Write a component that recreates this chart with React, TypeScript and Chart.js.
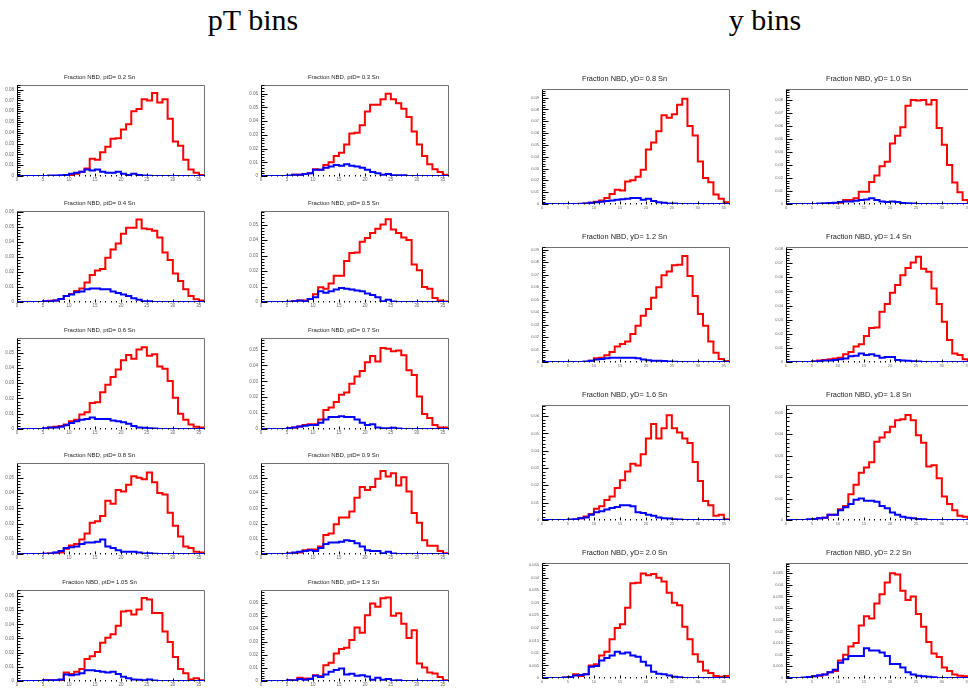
import React, { useEffect, useRef } from 'react';
import { Chart, registerables } from 'chart.js';

Chart.register(...registerables);

// ---------------- axis / bin definitions ----------------
const X_MIN = 0;
const X_MAX = 36;
const X_TICK_STEP = 5;

const ptBinLabels = ['0.2', '0.3', '0.4', '0.5', '0.6', '0.7', '0.8', '0.9', '1.05', '1.3'];
const yBinLabels = ['0.8', '1.0', '1.2', '1.4', '1.6', '1.8', '2.0', '2.2'];

// ---------------- pT bins data (36 bins each) ----------------
const redPt02 = [0, 0, 0, 0, 0, 0, 0, 0, 0, 0.0003, 0.001, 0.002, 0.004, 0.007, 0.016, 0.015, 0.022, 0.027, 0.0345, 0.035, 0.043, 0.048, 0.06, 0.062, 0.071, 0.07, 0.077, 0.068, 0.071, 0.053, 0.032, 0.028, 0.015, 0.006, 0.003, 0.001];
const bluePt02 = [0, 0, 0, 0, 0, 0, 0.0005, 0.0005, 0.0008, 0.001, 0.002, 0.003, 0.004, 0.006, 0.005, 0.006, 0.004, 0.003, 0.003, 0.004, 0.002, 0.001, 0.002, 0.001, 0.0005, 0.0003, 0, 0, 0, 0, 0, 0, 0, 0, 0, 0];

const redPt03 = [0, 0, 0, 0, 0, 0, 0.001, 0.001, 0.0015, 0.002, 0.005, 0.0045, 0.008, 0.01, 0.0145, 0.017, 0.023, 0.031, 0.0315, 0.037, 0.047, 0.052, 0.052, 0.056, 0.06, 0.056, 0.053, 0.049, 0.043, 0.0325, 0.023, 0.0145, 0.0085, 0.005, 0.003, 0.001];
const bluePt03 = [0, 0, 0, 0, 0, 0.0003, 0.001, 0.001, 0.0015, 0.002, 0.0045, 0.0045, 0.006, 0.007, 0.008, 0.0075, 0.0085, 0.0075, 0.007, 0.006, 0.0045, 0.003, 0.002, 0.001, 0.0015, 0.0005, 0.0005, 0.0005, 0, 0, 0, 0, 0, 0, 0, 0];

const redPt04 = [0, 0, 0, 0, 0, 0.0005, 0.0008, 0.001, 0.002, 0.004, 0.0053, 0.0073, 0.009, 0.013, 0.018, 0.021, 0.022, 0.0295, 0.035, 0.039, 0.0455, 0.0495, 0.0495, 0.055, 0.049, 0.0485, 0.0475, 0.043, 0.033, 0.028, 0.019, 0.014, 0.0085, 0.004, 0.0018, 0.001];
const bluePt04 = [0, 0, 0, 0, 0, 0.0005, 0.0005, 0.001, 0.002, 0.004, 0.005, 0.0065, 0.007, 0.0085, 0.009, 0.009, 0.0085, 0.0085, 0.007, 0.006, 0.005, 0.004, 0.0025, 0.0015, 0.0005, 0.0005, 0, 0, 0, 0, 0, 0, 0, 0, 0, 0];

const redPt05 = [0, 0, 0, 0, 0, 0.0002, 0.0005, 0.001, 0.001, 0.002, 0.005, 0.0095, 0.0085, 0.012, 0.017, 0.017, 0.0265, 0.0317, 0.032, 0.039, 0.0413, 0.0446, 0.0474, 0.05, 0.0535, 0.0468, 0.0446, 0.0416, 0.04, 0.0243, 0.0205, 0.0097, 0.0086, 0.0026, 0.001, 0.0003];
const bluePt05 = [0, 0, 0, 0, 0, 0.0002, 0.0005, 0.001, 0.0005, 0.002, 0.003, 0.007, 0.006, 0.007, 0.008, 0.009, 0.0085, 0.008, 0.0075, 0.007, 0.0055, 0.0045, 0.003, 0.0005, 0.0015, 0.0003, 0, 0, 0, 0, 0, 0, 0, 0, 0, 0];

const redPt06 = [0, 0, 0, 0, 0, 0.0003, 0.001, 0.0015, 0.002, 0.003, 0.005, 0.006, 0.0095, 0.011, 0.017, 0.0175, 0.024, 0.029, 0.034, 0.039, 0.045, 0.0485, 0.046, 0.052, 0.0535, 0.048, 0.049, 0.041, 0.0395, 0.0315, 0.0205, 0.01, 0.006, 0.003, 0.0015, 0.001];
const bluePt06 = [0, 0, 0, 0, 0, 0.0005, 0.001, 0.001, 0.0015, 0.0025, 0.004, 0.005, 0.006, 0.0065, 0.0075, 0.0065, 0.0065, 0.0065, 0.0055, 0.005, 0.0045, 0.0035, 0.002, 0.001, 0.0008, 0.0005, 0.0003, 0, 0, 0, 0, 0, 0, 0, 0, 0];

const redPt07 = [0, 0, 0, 0, 0, 0.0005, 0.001, 0.0015, 0.0025, 0.003, 0.003, 0.006, 0.012, 0.0135, 0.017, 0.0215, 0.023, 0.0285, 0.033, 0.0365, 0.042, 0.046, 0.0425, 0.051, 0.0505, 0.049, 0.0495, 0.0465, 0.037, 0.034, 0.0205, 0.0095, 0.007, 0.0025, 0.001, 0.001];
const bluePt07 = [0, 0, 0, 0, 0, 0.0005, 0.001, 0.0015, 0.002, 0.0025, 0.0025, 0.004, 0.006, 0.0075, 0.0075, 0.008, 0.0075, 0.0075, 0.006, 0.004, 0.0025, 0.003, 0.001, 0.0005, 0.0005, 0.0008, 0.0003, 0, 0, 0, 0, 0, 0, 0, 0, 0];

const redPt08 = [0, 0, 0, 0, 0, 0.0002, 0.0003, 0.0008, 0.001, 0.0035, 0.0055, 0.0065, 0.0095, 0.0135, 0.0205, 0.0215, 0.025, 0.035, 0.033, 0.042, 0.041, 0.0455, 0.051, 0.05, 0.049, 0.0535, 0.047, 0.04, 0.039, 0.027, 0.0185, 0.0115, 0.005, 0.004, 0.0015, 0.001];
const bluePt08 = [0, 0, 0, 0, 0, 0.0002, 0.0003, 0.001, 0.002, 0.004, 0.0045, 0.005, 0.0065, 0.0075, 0.0075, 0.008, 0.0095, 0.005, 0.004, 0.0025, 0.0015, 0.0015, 0.0015, 0.001, 0.0003, 0.0005, 0.0002, 0, 0, 0, 0, 0, 0, 0, 0, 0];

const redPt09 = [0, 0, 0, 0, 0, 0.0003, 0.0003, 0.001, 0.0025, 0.003, 0.003, 0.005, 0.0125, 0.0135, 0.0195, 0.024, 0.024, 0.028, 0.037, 0.044, 0.042, 0.044, 0.0495, 0.0545, 0.051, 0.053, 0.045, 0.0505, 0.041, 0.027, 0.0205, 0.009, 0.0055, 0.0055, 0.002, 0.0005];
const bluePt09 = [0, 0, 0, 0, 0, 0.0003, 0.001, 0.0015, 0.002, 0.0025, 0.002, 0.004, 0.0065, 0.0075, 0.0075, 0.008, 0.009, 0.0085, 0.007, 0.005, 0.0025, 0.002, 0.002, 0.0005, 0.0015, 0.0003, 0, 0, 0, 0, 0, 0, 0, 0, 0, 0];

const redPt105 = [0, 0, 0, 0, 0, 0.0005, 0.0005, 0.0005, 0.0005, 0.006, 0.005, 0.0065, 0.0085, 0.0155, 0.0175, 0.0205, 0.027, 0.0305, 0.033, 0.039, 0.049, 0.0495, 0.047, 0.0505, 0.0585, 0.0575, 0.048, 0.048, 0.035, 0.0275, 0.017, 0.0085, 0.0055, 0.001, 0.002, 0.0005];
const bluePt105 = [0, 0, 0, 0, 0, 0.0005, 0.0005, 0.0005, 0.001, 0.0045, 0.004, 0.0045, 0.0055, 0.0075, 0.0075, 0.007, 0.0065, 0.006, 0.0065, 0.005, 0.003, 0.002, 0.001, 0.0008, 0.0005, 0.001, 0.0003, 0, 0, 0, 0, 0, 0, 0, 0, 0];

const redPt13 = [0, 0, 0, 0, 0, 0.0005, 0.0005, 0.0025, 0.002, 0.002, 0.0045, 0.0038, 0.012, 0.014, 0.021, 0.0245, 0.0255, 0.0315, 0.041, 0.037, 0.0505, 0.0595, 0.057, 0.0635, 0.064, 0.05, 0.052, 0.044, 0.033, 0.039, 0.0135, 0.0103, 0.0065, 0.0057, 0.003, 0.0005];
const bluePt13 = [0, 0, 0, 0, 0, 0.0005, 0.0003, 0.0015, 0.001, 0.0015, 0.004, 0.003, 0.005, 0.007, 0.0085, 0.0095, 0.005, 0.0055, 0.004, 0.0045, 0.0035, 0.001, 0.0025, 0.001, 0.0015, 0.0003, 0.0005, 0, 0, 0, 0, 0, 0, 0, 0, 0];

// ---------------- y bins data (36 bins each) ----------------
const redY08 = [0, 0, 0, 0, 0, 0, 0, 0, 0.0005, 0.001, 0.002, 0.003, 0.005, 0.0085, 0.012, 0.0115, 0.019, 0.02, 0.023, 0.029, 0.046, 0.052, 0.0615, 0.075, 0.073, 0.076, 0.084, 0.089, 0.066, 0.058, 0.036, 0.022, 0.0185, 0.008, 0.0045, 0.0015];
const blueY08 = [0, 0, 0, 0, 0, 0, 0, 0.0003, 0.0005, 0.001, 0.0015, 0.002, 0.0025, 0.003, 0.0035, 0.004, 0.0045, 0.005, 0.005, 0.0035, 0.0045, 0.0025, 0.0015, 0.001, 0.0005, 0.0005, 0, 0, 0, 0, 0, 0, 0, 0, 0, 0];

const redY10 = [0, 0, 0, 0, 0, 0, 0, 0, 0, 0.0005, 0.001, 0.003, 0.003, 0.0045, 0.0095, 0.0095, 0.017, 0.022, 0.029, 0.0325, 0.0465, 0.0525, 0.059, 0.0755, 0.08, 0.0795, 0.08, 0.0765, 0.08, 0.0585, 0.0455, 0.03, 0.0165, 0.009, 0.003, 0.001];
const blueY10 = [0, 0, 0, 0, 0, 0, 0.0003, 0.0005, 0.0008, 0.001, 0.0015, 0.002, 0.002, 0.0025, 0.003, 0.0035, 0.0045, 0.003, 0.002, 0.0015, 0.002, 0.0015, 0.0008, 0.0005, 0.0003, 0, 0, 0, 0, 0, 0, 0, 0, 0, 0, 0];

const redY12 = [0, 0, 0, 0, 0, 0, 0, 0, 0, 0.001, 0.003, 0.0035, 0.0055, 0.008, 0.0125, 0.0145, 0.0165, 0.0225, 0.029, 0.037, 0.0425, 0.0515, 0.06, 0.0695, 0.0725, 0.0775, 0.078, 0.085, 0.069, 0.053, 0.0385, 0.029, 0.0165, 0.0075, 0.0025, 0.0008];
const blueY12 = [0, 0, 0, 0, 0, 0, 0, 0, 0.0005, 0.001, 0.002, 0.0025, 0.003, 0.0035, 0.0035, 0.0035, 0.0035, 0.0035, 0.003, 0.002, 0.0015, 0.001, 0.001, 0.0008, 0.0005, 0.0003, 0, 0, 0, 0, 0, 0, 0, 0, 0, 0];

const redY14 = [0, 0, 0, 0, 0, 0.0003, 0.001, 0.0015, 0.002, 0.0025, 0.003, 0.0055, 0.007, 0.011, 0.0125, 0.0185, 0.024, 0.0245, 0.0355, 0.041, 0.049, 0.0545, 0.0615, 0.0665, 0.0705, 0.0745, 0.066, 0.064, 0.052, 0.041, 0.0285, 0.0155, 0.006, 0.005, 0.002, 0.001];
const blueY14 = [0, 0, 0, 0, 0, 0.0003, 0.0005, 0.001, 0.001, 0.0015, 0.002, 0.0025, 0.004, 0.0045, 0.006, 0.005, 0.0055, 0.0045, 0.003, 0.0035, 0.0035, 0.0015, 0.001, 0.0008, 0.0005, 0.0003, 0, 0, 0, 0, 0, 0, 0, 0, 0, 0];

const redY16 = [0, 0, 0, 0, 0, 0, 0.0003, 0.001, 0.002, 0.0035, 0.0065, 0.008, 0.0115, 0.0135, 0.0185, 0.023, 0.028, 0.0325, 0.0315, 0.038, 0.047, 0.0555, 0.047, 0.053, 0.0605, 0.053, 0.0505, 0.047, 0.0445, 0.0335, 0.0225, 0.011, 0.0085, 0.0025, 0.003, 0.0005];
const blueY16 = [0, 0, 0, 0, 0, 0.0003, 0.0005, 0.001, 0.0015, 0.003, 0.0045, 0.005, 0.006, 0.007, 0.0075, 0.0085, 0.0085, 0.008, 0.0045, 0.004, 0.003, 0.0025, 0.0015, 0.001, 0.0008, 0.0005, 0.0003, 0, 0, 0, 0, 0, 0, 0, 0, 0];

const redY18 = [0, 0, 0, 0, 0, 0.0005, 0.0008, 0.001, 0.0025, 0.0025, 0.005, 0.0065, 0.012, 0.0165, 0.022, 0.0245, 0.027, 0.0365, 0.0385, 0.041, 0.0435, 0.0465, 0.047, 0.049, 0.0465, 0.0395, 0.036, 0.025, 0.0255, 0.0195, 0.011, 0.0075, 0.0045, 0.002, 0.0015, 0.0005];
const blueY18 = [0, 0, 0, 0, 0.0003, 0.0005, 0.0008, 0.001, 0.0025, 0.0025, 0.0045, 0.006, 0.0075, 0.0095, 0.01, 0.009, 0.009, 0.0085, 0.0065, 0.0055, 0.0035, 0.0025, 0.0015, 0.001, 0.0008, 0.0005, 0.0003, 0, 0, 0, 0, 0, 0, 0, 0, 0];

const redY20 = [0, 0, 0, 0, 0.0002, 0.0004, 0.0015, 0.0008, 0.0015, 0.005, 0.0055, 0.009, 0.0105, 0.0155, 0.02, 0.0215, 0.028, 0.0378, 0.038, 0.0417, 0.041, 0.0415, 0.04, 0.0385, 0.034, 0.03, 0.029, 0.0205, 0.0155, 0.0095, 0.0065, 0.003, 0.002, 0.0008, 0.0005, 0.0008];
const blueY20 = [0, 0, 0, 0, 0.0002, 0.0004, 0.001, 0.0012, 0.0015, 0.0045, 0.0048, 0.007, 0.008, 0.009, 0.0105, 0.0098, 0.0102, 0.009, 0.0085, 0.0065, 0.005, 0.0025, 0.0017, 0.0015, 0.001, 0.0005, 0.0003, 0, 0, 0, 0, 0, 0, 0, 0, 0];

const redY22 = [0, 0, 0, 0, 0.0003, 0.0008, 0.001, 0.0015, 0.0025, 0.003, 0.0075, 0.01, 0.0135, 0.015, 0.0225, 0.0265, 0.0255, 0.032, 0.036, 0.041, 0.045, 0.0445, 0.0375, 0.0335, 0.035, 0.0275, 0.022, 0.0155, 0.0105, 0.009, 0.0045, 0.003, 0.0015, 0.001, 0.0008, 0.0005];
const blueY22 = [0, 0, 0, 0.0002, 0.0004, 0.0008, 0.0012, 0.0015, 0.0025, 0.0035, 0.0065, 0.008, 0.0095, 0.0095, 0.0095, 0.0128, 0.0118, 0.0118, 0.011, 0.0095, 0.006, 0.006, 0.0045, 0.0025, 0.0015, 0.001, 0.0008, 0.0005, 0.0003, 0, 0, 0, 0, 0, 0, 0];

// axis ranges per panel
const ptYMax = [0.0843, 0.0663, 0.0607, 0.0588, 0.0596, 0.0573, 0.0597, 0.0598, 0.0642, 0.0698];
const ptYStep = [0.01, 0.01, 0.01, 0.01, 0.01, 0.01, 0.01, 0.01, 0.01, 0.01];
const yYMax = [0.0977, 0.0888, 0.0926, 0.0818, 0.0667, 0.0539, 0.0461, 0.0496];
const yYStep = [0.01, 0.01, 0.01, 0.01, 0.01, 0.01, 0.005, 0.005];

const ptRed = [redPt02, redPt03, redPt04, redPt05, redPt06, redPt07, redPt08, redPt09, redPt105, redPt13];
const ptBlue = [bluePt02, bluePt03, bluePt04, bluePt05, bluePt06, bluePt07, bluePt08, bluePt09, bluePt105, bluePt13];
const yRed = [redY08, redY10, redY12, redY14, redY16, redY18, redY20, redY22];
const yBlue = [blueY08, blueY10, blueY12, blueY14, blueY16, blueY18, blueY20, blueY22];

// ---------------- layout ----------------
const FONT = "'Liberation Sans', Arial, sans-serif";

type Spec = {
  key: string;
  frameLeft: number;
  frameTop: number;
  frameW: number;
  frameH: number;
  title: string;
  titleSize: number;
  titleGap: number;
  labelSize: number;
  red: number[];
  blue: number[];
  yMax: number;
  yStep: number;
};

const AXIS_W = 22;
const XAXIS_H = 10;
const RIGHT_PAD = 6;
const TITLE_LINE = 8;

function histPoints(vals: number[]) {
  const width = (X_MAX - X_MIN) / vals.length;
  const pts: { x: number; y: number }[] = [];
  vals.forEach((v, i) => {
    pts.push({ x: X_MIN + i * width, y: v });
    pts.push({ x: X_MIN + (i + 1) * width, y: v });
  });
  return pts;
}

const rootFrame = {
  id: 'rootFrame',
  afterDatasetsDraw(chart: any, _args: any, opts: any) {
    const { ctx, chartArea: a, scales } = chart;
    const x = scales.x;
    const y = scales.y;
    const L = Math.round(a.left) + 0.5;
    const R = Math.round(a.right) + 0.5;
    const T = Math.round(a.top) + 0.5;
    const B = Math.round(a.bottom) + 0.5;
    ctx.save();
    ctx.lineWidth = 1;
    ctx.strokeStyle = '#707070';
    ctx.beginPath();
    ctx.moveTo(L, T);
    ctx.lineTo(R, T);
    ctx.lineTo(R, B);
    ctx.stroke();
    ctx.strokeStyle = '#000';
    ctx.beginPath();
    ctx.moveTo(L, T);
    ctx.lineTo(L, B);
    ctx.stroke();
    const minor = opts.yStep / 5;
    ctx.beginPath();
    for (let k = 0; k * minor <= y.max + 1e-12; k++) {
      const py = Math.round(y.getPixelForValue(k * minor)) + 0.5;
      const len = k % 5 === 0 ? opts.yTick : opts.yTick / 2;
      ctx.moveTo(L, py);
      ctx.lineTo(L + len, py);
    }
    ctx.stroke();
    ctx.beginPath();
    for (let v = X_MIN; v <= X_MAX; v += 1) {
      const px = Math.round(x.getPixelForValue(v)) + 0.5;
      const len = v % X_TICK_STEP === 0 ? opts.xTick : opts.xTick / 2;
      ctx.moveTo(px, B);
      ctx.lineTo(px, B - len);
    }
    ctx.stroke();
    ctx.restore();
  },
};

function fmt(v: number) {
  if (Math.abs(v) < 1e-12) return '0';
  return String(Number(v.toFixed(4)));
}

function Panel({ s }: { s: Spec }) {
  const ref = useRef<HTMLCanvasElement>(null);
  const titleH = TITLE_LINE + s.titleGap;
  const W = AXIS_W + s.frameW + RIGHT_PAD;
  const H = titleH + s.frameH + XAXIS_H;
  const left = s.frameLeft - AXIS_W;
  const top = s.frameTop - titleH;

  useEffect(() => {
    const canvas = ref.current;
    if (!canvas) return;
    const chart = new Chart(canvas, {
      type: 'line',
      data: {
        datasets: [
          {
            data: histPoints(s.blue),
            borderColor: '#0000ff',
            borderWidth: 2,
            pointRadius: 0,
            fill: false,
            tension: 0,
            borderJoinStyle: 'miter',
            borderCapStyle: 'butt',
          },
          {
            data: histPoints(s.red),
            borderColor: '#ff0000',
            borderWidth: 2,
            pointRadius: 0,
            fill: false,
            tension: 0,
            borderJoinStyle: 'miter',
            borderCapStyle: 'butt',
          },
        ],
      },
      options: {
        animation: false,
        responsive: false,
        devicePixelRatio: 1,
        events: [],
        layout: { padding: { left: 0, right: RIGHT_PAD, top: 0, bottom: 0 } },
        plugins: {
          legend: { display: false },
          tooltip: { enabled: false },
          title: {
            display: true,
            text: s.title,
            color: '#222',
            font: { family: FONT, size: s.titleSize, weight: 'normal', lineHeight: TITLE_LINE + 'px' },
            padding: { top: 0, bottom: s.titleGap },
          },
          rootFrame: { yStep: s.yStep, yTick: 6, xTick: 3 },
        } as any,
        scales: {
          x: {
            type: 'linear',
            min: X_MIN,
            max: X_MAX,
            grid: { display: false, drawTicks: false, tickLength: 0 },
            border: { display: false },
            ticks: {
              stepSize: X_TICK_STEP,
              includeBounds: false,
              autoSkip: false,
              maxRotation: 0,
              padding: 1,
              color: '#666',
              font: { family: FONT, size: s.labelSize },
              callback: (v: any) => String(v),
            },
            afterFit: (sc: any) => {
              sc.height = XAXIS_H;
            },
          },
          y: {
            type: 'linear',
            min: 0,
            max: s.yMax,
            grid: { display: false, drawTicks: false, tickLength: 0 },
            border: { display: false },
            ticks: {
              stepSize: s.yStep,
              includeBounds: false,
              autoSkip: false,
              padding: 3,
              color: '#666',
              font: { family: FONT, size: s.labelSize },
              callback: (v: any) => fmt(Number(v)),
            },
            afterFit: (sc: any) => {
              sc.width = AXIS_W;
            },
          },
        },
      } as any,
      plugins: [rootFrame],
    });
    return () => chart.destroy();
  }, []);

  return (
    <canvas
      ref={ref}
      width={W}
      height={H}
      style={{ position: 'absolute', left, top, width: W, height: H }}
    />
  );
}

const LEFT_COLS = [17, 261];
const LEFT_ROWS = [85, 211, 338, 463, 590];
const RIGHT_COLS = [542, 786];
const RIGHT_ROWS = [88, 246, 404, 562];

const specs: Spec[] = [];
ptBinLabels.forEach((lab, i) => {
  specs.push({
    key: 'pt' + i,
    frameLeft: LEFT_COLS[i % 2],
    frameTop: LEFT_ROWS[Math.floor(i / 2)],
    frameW: 187,
    frameH: 91,
    title: 'Fraction NBD, ptD= ' + lab + ' Sn',
    titleSize: 6,
    titleGap: 4,
    labelSize: 4.5,
    red: ptRed[i],
    blue: ptBlue[i],
    yMax: ptYMax[i],
    yStep: ptYStep[i],
  });
});
yBinLabels.forEach((lab, i) => {
  specs.push({
    key: 'y' + i,
    frameLeft: RIGHT_COLS[i % 2],
    frameTop: RIGHT_ROWS[Math.floor(i / 2)],
    frameW: 187,
    frameH: 116,
    title: 'Fraction NBD, yD= ' + lab + ' Sn',
    titleSize: 7.4,
    titleGap: 5.5,
    labelSize: 4,
    red: yRed[i],
    blue: yBlue[i],
    yMax: yYMax[i],
    yStep: yYStep[i],
  });
});

const headerStyle: React.CSSProperties = {
  position: 'absolute',
  top: 5,
  width: 300,
  textAlign: 'center',
  fontFamily: "'Liberation Serif', 'Times New Roman', serif",
  fontSize: 30,
  lineHeight: '30px',
  color: '#000',
  whiteSpace: 'nowrap',
};

export default function App() {
  return (
    <div
      style={{
        position: 'absolute',
        left: 0,
        top: 0,
        width: 968,
        height: 691,
        overflow: 'hidden',
        background: '#fff',
      }}
    >
      <div style={{ ...headerStyle, left: 253 - 150 }}>pT bins</div>
      <div style={{ ...headerStyle, left: 765 - 150 }}>y bins</div>
      {specs.map((s) => (
        <Panel key={s.key} s={s} />
      ))}
    </div>
  );
}
